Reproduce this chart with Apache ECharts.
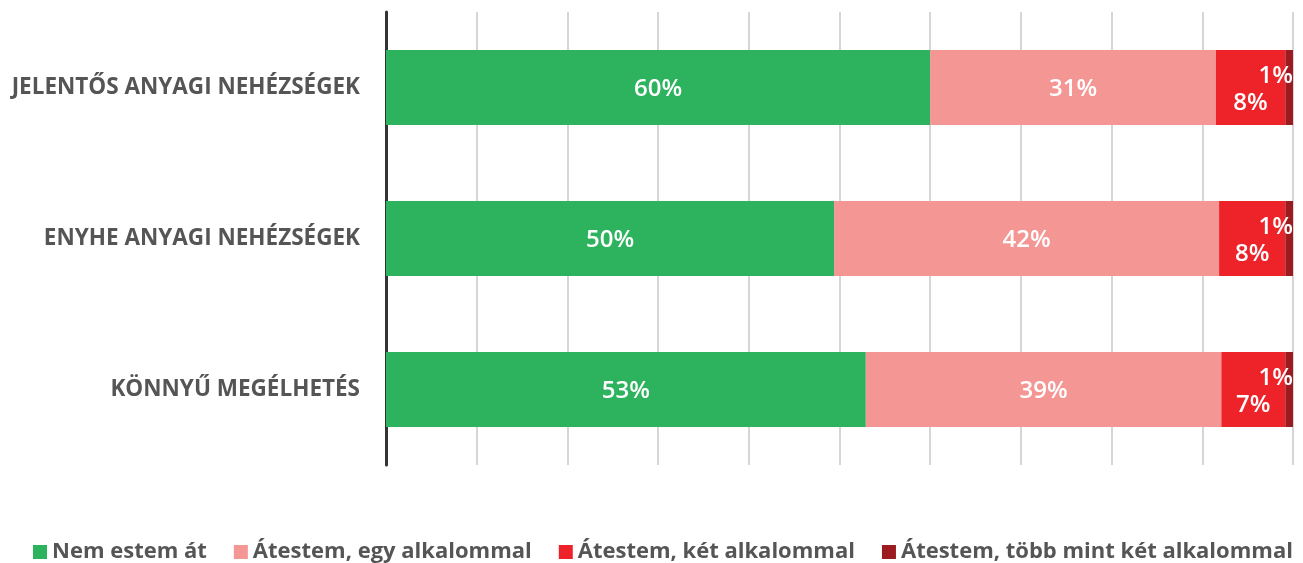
<!DOCTYPE html>
<html>
<head>
<meta charset="utf-8">
<script src="https://cdn.jsdelivr.net/npm/echarts@6/dist/echarts.min.js"></script>
<style>
html, body { margin: 0; padding: 0; background: #fff; }
#main { width: 1303px; height: 563px; }
</style>
</head>
<body>
<div id="main"></div>
<script>
// categories, top to bottom
var categories = ['JELENTŐS ANYAGI NEHÉZSÉGEK', 'ENYHE ANYAGI NEHÉZSÉGEK', 'KÖNNYŰ MEGÉLHETÉS']
var seriesNames = ['Nem estem át', 'Átestem, egy alkalommal', 'Átestem, két alkalommal', 'Átestem, több mint két alkalommal']

// values (percent)
var nemEstem = [60.0, 49.4, 52.9]
var egyAlk = [31.5, 42.45, 39.2]
var ketAlk = [7.65, 7.3, 7.05]
var tobbAlk = [0.85, 0.85, 0.85]

// labels as printed on the bars
var nemLbl = ['60%', '50%', '53%']
var egyLbl = ['31%', '42%', '39%']
var ketLbl = ['8%', '8%', '7%']
var tobbLbl = ['1%', '1%', '1%']

var colors = ['#2db35d', '#f49694', '#ee2329', '#9b1b20']
var font = 'Open Sans'

function lbl(arr, extra) {
    var base = {
        show: true,
        color: '#fff',
        fontFamily: font,
        fontWeight: 600,
        fontSize: 24,
        formatter: function (p) { return arr[p.dataIndex] }
    }
    return Object.assign(base, extra || {})
}

var myChart = echarts.init(document.getElementById('main'))
var option = {
    animation: false,
    grid: {
        left: 386,
        right: 10,
        top: 12,
        bottom: 98
    },
    legend: {
        top: 541,
        left: 33,
        padding: 0,
        width: 1270,
        icon: 'rect',
        itemWidth: 14,
        itemHeight: 14,
        itemGap: 27,
        textStyle: {
            color: '#555',
            fontFamily: font,
            fontWeight: 'bold',
            fontSize: 22
        },
        data: seriesNames
    },
    xAxis: {
        type: 'value',
        min: 0,
        max: 100,
        interval: 10,
        axisLabel: { show: false },
        axisLine: { show: false },
        axisTick: { show: false },
        splitLine: {
            show: true,
            lineStyle: { color: '#d6d6d6', width: 2 }
        }
    },
    yAxis: {
        type: 'category',
        data: categories,
        inverse: true,
        axisTick: { show: false },
        axisLine: {
            show: true,
            lineStyle: { color: '#333', width: 3 }
        },
        axisLabel: {
            margin: 26,
            color: '#555',
            fontFamily: font,
            fontWeight: 'bold',
            fontSize: 22.5
        }
    },
    series: [
        {
            name: seriesNames[0], type: 'bar', stack: 'all', barWidth: 75,
            itemStyle: { color: colors[0] },
            label: lbl(nemLbl, { position: 'inside', offset: [0, 2] }),
            data: nemEstem
        },
        {
            name: seriesNames[1], type: 'bar', stack: 'all', barWidth: 75,
            itemStyle: { color: colors[1] },
            label: lbl(egyLbl, { position: 'inside', offset: [0, 2] }),
            data: egyAlk
        },
        {
            name: seriesNames[2], type: 'bar', stack: 'all', barWidth: 75,
            itemStyle: { color: colors[2] },
            label: lbl(ketLbl, { position: 'inside', offset: [0, 16] }),
            data: ketAlk
        },
        {
            name: seriesNames[3], type: 'bar', stack: 'all', barWidth: 75,
            itemStyle: { color: colors[3] },
            label: lbl(tobbLbl, { position: 'insideRight', distance: 0, offset: [0, -11] }),
            data: tobbAlk
        }
    ]
}
myChart.setOption(option)
</script>
</body>
</html>
